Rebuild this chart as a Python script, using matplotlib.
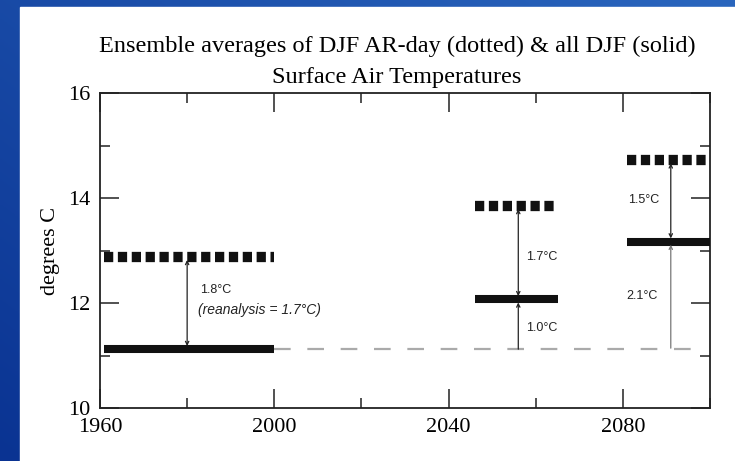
import numpy as np
import matplotlib
matplotlib.use("Agg")
from matplotlib import pyplot as plt
from matplotlib.ticker import MultipleLocator
from matplotlib.patches import Rectangle

# periods (start, end) and ensemble means
periods = [(1961, 2000), (2046, 2065), (2081, 2100)]
ar_day = [12.88, 13.85, 14.72]     # dotted
all_djf = [11.12, 12.07, 13.17]    # solid
baseline = 11.12                   # 1961-2000 all DJF, carried forward
arrow_x = [1980, 2056, 2091]
diff_labels = ["1.8\u00b0C", "1.7\u00b0C", "1.5\u00b0C"]
change_labels = ["1.0\u00b0C", "2.1\u00b0C"]
title_lines = ["Ensemble averages of DJF AR-day (dotted) & all DJF (solid)",
               "Surface Air Temperatures"]

fig = plt.figure(figsize=(7.35, 4.61), dpi=100)

# blue backdrop with white panel
bg = fig.add_axes([0, 0, 1, 1], zorder=-10)
xx, yy = np.meshgrid(np.linspace(0, 1, 200), np.linspace(0, 1, 200))
g = 0.55 * xx + 0.45 * yy
c0 = np.array([0x0a, 0x33, 0x92]) / 255
c1 = np.array([0x2a, 0x66, 0xbe]) / 255
img = c0[None, None, :] * (1 - g[..., None]) + c1[None, None, :] * g[..., None]
bg.imshow(img, origin="lower", extent=[0, 1, 0, 1], aspect="auto")
bg.add_patch(Rectangle((20 / 735, 0), 1, (461 - 7) / 461, color="white"))
bg.set_xlim(0, 1)
bg.set_ylim(0, 1)
bg.axis("off")

ax = fig.add_axes([100 / 735, 53 / 461, 610 / 735, 315 / 461])
ax.set_xlim(1960, 2100)
ax.set_ylim(10, 16)

serif = "Liberation Serif"
small = ["Liberation Sans Narrow", "Liberation Sans"]

# baseline gray dashed
ax.plot([2000, 2098], [baseline, baseline], color="#aaaaaa", lw=1.6,
        linestyle=(0, (7.5, 7.5)), zorder=1)

for (x0, x1), d, s in zip(periods, ar_day, all_djf):
    ax.plot([x0, x1], [d, d], color="#111111", lw=7.4,
            linestyle=(0, (0.9, 0.45)), solid_capstyle="butt",
            dash_capstyle="butt", zorder=3)
    ax.plot([x0, x1], [s, s], color="#111111", lw=5.8,
            solid_capstyle="butt", zorder=3)

arw = dict(arrowstyle="<->", lw=0.9, color="#222222",
           mutation_scale=6, shrinkA=0, shrinkB=0)
for x, d, s in zip(arrow_x, ar_day, all_djf):
    ax.annotate("", xy=(x, d - 0.06), xytext=(x, s + 0.06), arrowprops=arw)

up = dict(arrowstyle="->", lw=0.9, color="#222222",
          mutation_scale=6, shrinkA=0, shrinkB=0)
ax.annotate("", xy=(arrow_x[1], all_djf[1] - 0.06), xytext=(arrow_x[1], baseline),
            arrowprops=up)
up2 = dict(up, color="#777777")
ax.annotate("", xy=(arrow_x[2], all_djf[2] - 0.06), xytext=(arrow_x[2], baseline + 0.02),
            arrowprops=up2)

tk = dict(fontsize=9, family=small, color="#222222", va="center", ha="left")
ax.text(1983, 12.25, diff_labels[0], **tk)
ax.text(1982.6, 11.87, "(reanalysis = 1.7\u00b0C)", style="italic",
        **dict(tk, fontsize=10))
ax.text(2057.8, 12.88, diff_labels[1], **tk)
ax.text(2057.8, 11.52, change_labels[0], **tk)
ax.text(2081.2, 13.96, diff_labels[2], **tk)
ax.text(2080.8, 12.13, change_labels[1], **tk)

ax.xaxis.set_major_locator(MultipleLocator(40))
ax.xaxis.set_minor_locator(MultipleLocator(20))
ax.yaxis.set_major_locator(MultipleLocator(2))
ax.yaxis.set_minor_locator(MultipleLocator(1))
ax.tick_params(which="both", direction="in", top=True, right=True,
               color="#222222", width=1.1)
ax.tick_params(which="major", length=13.5, pad=7, labelsize=16)
ax.tick_params(which="minor", length=7)
for lab in ax.get_xticklabels() + ax.get_yticklabels():
    lab.set_family(serif)
for sp in ax.spines.values():
    sp.set_linewidth(1.3)
    sp.set_color("#222222")

ax.set_ylabel("degrees C", family=serif, fontsize=16, labelpad=6)
fig.text(397 / 735, 1 - 52 / 461, title_lines[0],
         family=serif, fontsize=17.5, ha="center", va="baseline")
fig.text(397 / 735, 1 - 83 / 461, title_lines[1],
         family=serif, fontsize=17.5, ha="center", va="baseline")

fig.savefig("out.png", dpi=100)
